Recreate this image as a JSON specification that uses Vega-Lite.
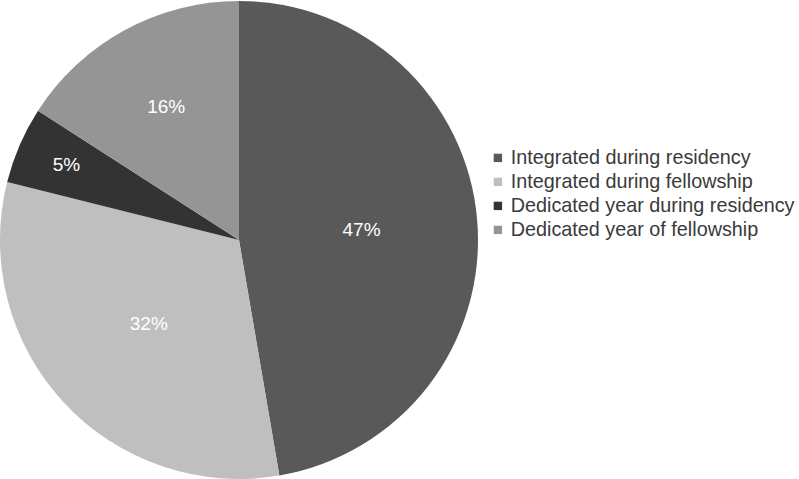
{
  "$schema": "https://vega.github.io/schema/vega-lite/v6.json",
  "width": 478,
  "height": 478,
  "autosize": {"type": "none"},
  "padding": {"top": 1, "left": 0, "right": 321, "bottom": 0},
  "background": "white",
  "config": {"view": {"stroke": null}},
  "data": {
    "values": [
      {"category": "Integrated during residency", "share": 0.473, "rank": 1},
      {"category": "Integrated during fellowship", "share": 0.316, "rank": 2},
      {"category": "Dedicated year during residency", "share": 0.052, "rank": 3},
      {"category": "Dedicated year of fellowship", "share": 0.159, "rank": 4}
    ]
  },
  "encoding": {
    "theta": {"field": "share", "type": "quantitative", "stack": true},
    "order": {"field": "rank", "type": "quantitative"},
    "color": {
      "field": "category",
      "type": "nominal",
      "sort": ["Integrated during residency", "Integrated during fellowship", "Dedicated year during residency", "Dedicated year of fellowship"],
      "scale": {
        "domain": ["Integrated during residency", "Integrated during fellowship", "Dedicated year during residency", "Dedicated year of fellowship"],
        "range": ["#595959", "#bfbfbf", "#333333", "#959595"]
      },
      "legend": {
        "title": null,
        "orient": "none",
        "legendX": 488,
        "legendY": 147,
        "symbolType": "square",
        "symbolSize": 70,
        "symbolStrokeWidth": 0,
        "labelFont": "Liberation Sans",
        "labelFontSize": 19.8,
        "labelColor": "#3a3a3a",
        "labelOffset": 3,
        "labelLimit": 400,
        "rowPadding": 3,
        "padding": 0
      }
    }
  },
  "layer": [
    {"mark": {"type": "arc", "stroke": null}},
    {
      "mark": {"type": "text", "radius": 123, "font": "Liberation Sans", "fontSize": 19, "align": "center", "baseline": "middle"},
      "encoding": {
        "text": {"field": "share", "type": "quantitative", "format": ".0%"},
        "color": {"value": "white"},
        "opacity": {"condition": {"test": "datum.share >= 0.3", "value": 1}, "value": 0}
      }
    },
    {
      "mark": {"type": "text", "radius": 152, "font": "Liberation Sans", "fontSize": 19, "align": "center", "baseline": "middle"},
      "encoding": {
        "text": {"field": "share", "type": "quantitative", "format": ".0%"},
        "color": {"value": "white"},
        "opacity": {"condition": {"test": "datum.share > 0.1 && datum.share < 0.3", "value": 1}, "value": 0}
      }
    },
    {
      "mark": {"type": "text", "radius": 188, "font": "Liberation Sans", "fontSize": 19, "align": "center", "baseline": "middle"},
      "encoding": {
        "text": {"field": "share", "type": "quantitative", "format": ".0%"},
        "color": {"value": "white"},
        "opacity": {"condition": {"test": "datum.share < 0.1", "value": 1}, "value": 0}
      }
    }
  ]
}
